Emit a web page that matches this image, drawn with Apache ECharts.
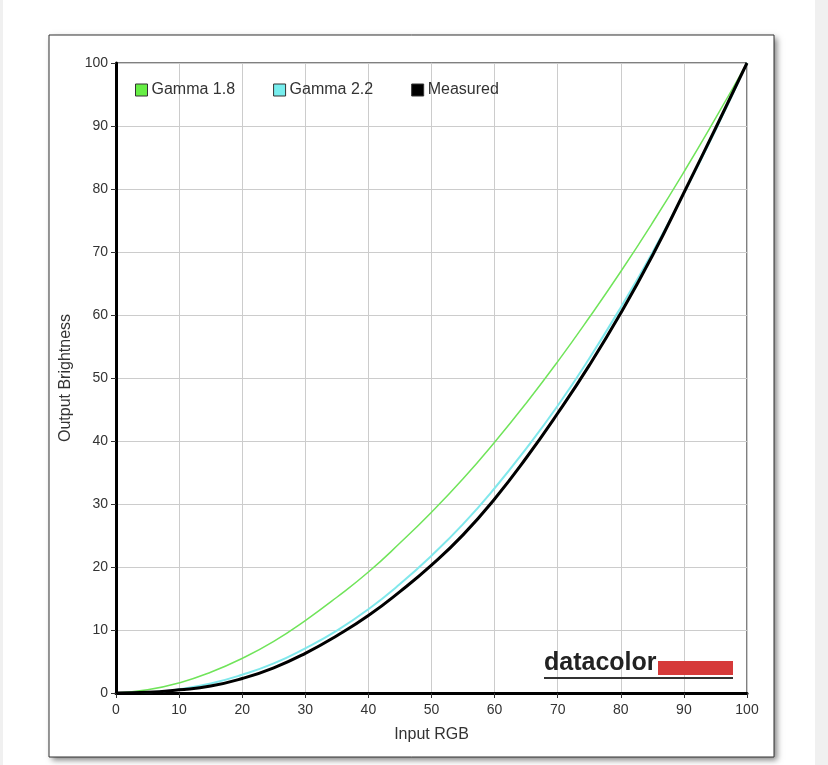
<!DOCTYPE html>
<html>
<head>
<meta charset="utf-8">
<script src="https://cdn.jsdelivr.net/npm/echarts@6/dist/echarts.min.js"></script>
<style>
    html, body { margin: 0; padding: 0; background: #f0f0f0; }
    #chart { width: 828px; height: 765px; }
</style>
</head>
<body>
<div id="chart"></div>
<script>
// input levels (x axis, %)
var inputRGB = [0, 5, 10, 15, 20, 25, 30, 35, 40, 45, 50, 55, 60, 65, 70, 75, 80, 85, 90, 95, 100];
// output brightness (%)
var gamma18 = [0, 0.5, 1.6, 3.3, 5.5, 8.2, 11.5, 15.2, 19.2, 23.8, 28.7, 34.0, 39.8, 46.0, 52.6, 59.6, 66.9, 74.6, 82.7, 91.2, 100];
var gamma22 = [0, 0.1, 0.6, 1.5, 2.9, 4.7, 7.1, 9.9, 13.3, 17.3, 21.8, 26.8, 32.5, 38.8, 45.6, 53.1, 61.2, 69.9, 79.3, 89.3, 100];
var measured = [0, 0.1, 0.5, 1.1, 2.3, 4.0, 6.3, 9.1, 12.3, 16.1, 20.3, 25.1, 30.8, 37.3, 44.4, 52.0, 60.3, 69.4, 79.4, 89.6, 100];
var seriesNames = ["Gamma 1.8", "Gamma 2.2", "Measured"];

function pairs(ys) {
    return inputRGB.map(function (x, i) { return [x, ys[i]]; });
}

var chartInstance = echarts.init(document.getElementById("chart"));
var font = "Arial, 'Liberation Sans', sans-serif";

var option = {
    backgroundColor: "#f0f0f0",
    animation: false,
    textStyle: { fontFamily: font },
    graphic: [
        { type: "rect", z: -10, shape: { x: 3, y: 0, width: 812, height: 765 }, style: { fill: "#fff" } },
        // card shadow, then card face on top
        {
            type: "rect", z: -9,
            shape: { x: 49, y: 35, width: 725, height: 722 },
            style: { fill: "#888", shadowBlur: 6, shadowOffsetX: 3, shadowOffsetY: 3, shadowColor: "rgba(0,0,0,0.5)" }
        },
        {
            type: "rect", z: -8,
            shape: { x: 49, y: 35, width: 725, height: 722 },
            style: { fill: "#fff", stroke: "#333", lineWidth: 1 }
        },
        // datacolor logo
        {
            type: "text", z: 10, left: 544, top: 651,
            style: { text: "datacolor", fill: "#222", font: "bold 25px Arial, 'Liberation Sans', sans-serif" }
        },
        { type: "rect", z: 10, shape: { x: 658, y: 661, width: 75, height: 14 }, style: { fill: "#d63a3a" } },
        { type: "rect", z: 10, shape: { x: 544, y: 677, width: 189, height: 2 }, style: { fill: "#333" } }
    ],
    legend: {
        data: seriesNames,
        left: 130,
        top: 77,
        icon: "rect",
        itemWidth: 12,
        itemHeight: 12,
        itemGap: 38,
        textStyle: { color: "#333", fontSize: 16, fontFamily: font, padding: [0, 0, 0, -1] },
        itemStyle: { borderColor: "#333", borderWidth: 1 }
    },
    grid: {
        left: 116,
        right: 81,
        top: 63,
        bottom: 72,
        show: true,
        borderColor: "#000",
        borderWidth: 1
    },
    xAxis: {
        type: "value",
        min: 0,
        max: 100,
        interval: 10,
        name: "Input RGB",
        nameLocation: "middle",
        nameGap: 34,
        nameTextStyle: { color: "#333", fontSize: 16, fontFamily: font },
        axisLine: { lineStyle: { color: "#000", width: 3 } },
        axisTick: { show: true, length: 5, lineStyle: { color: "#333" } },
        axisLabel: { color: "#333", fontSize: 14, margin: 10 },
        splitLine: { lineStyle: { color: "#ccc", width: 1 } }
    },
    yAxis: {
        type: "value",
        min: 0,
        max: 100,
        interval: 10,
        name: "Output Brightness",
        nameLocation: "middle",
        nameGap: 40,
        nameTextStyle: { color: "#333", fontSize: 16, fontFamily: font },
        axisLine: { show: true, lineStyle: { color: "#000", width: 3 } },
        axisTick: { show: true, length: 5, lineStyle: { color: "#333" } },
        axisLabel: { color: "#333", fontSize: 14, margin: 8 },
        splitLine: { lineStyle: { color: "#ccc", width: 1 } }
    },
    series: [
        {
            name: seriesNames[0],
            type: "line",
            smooth: true,
            symbol: "none",
            data: pairs(gamma18),
            itemStyle: { color: "#66ee44" },
            lineStyle: { color: "#70e45a", width: 1.5 }
        },
        {
            name: seriesNames[1],
            type: "line",
            smooth: true,
            symbol: "none",
            data: pairs(gamma22),
            itemStyle: { color: "#77eeee" },
            lineStyle: { color: "#80e8ec", width: 2 }
        },
        {
            name: seriesNames[2],
            type: "line",
            smooth: true,
            symbol: "none",
            data: pairs(measured),
            itemStyle: { color: "#000" },
            lineStyle: { color: "#000", width: 3 }
        }
    ]
};

chartInstance.setOption(option);
window.addEventListener("resize", chartInstance.resize);
</script>
</body>
</html>
